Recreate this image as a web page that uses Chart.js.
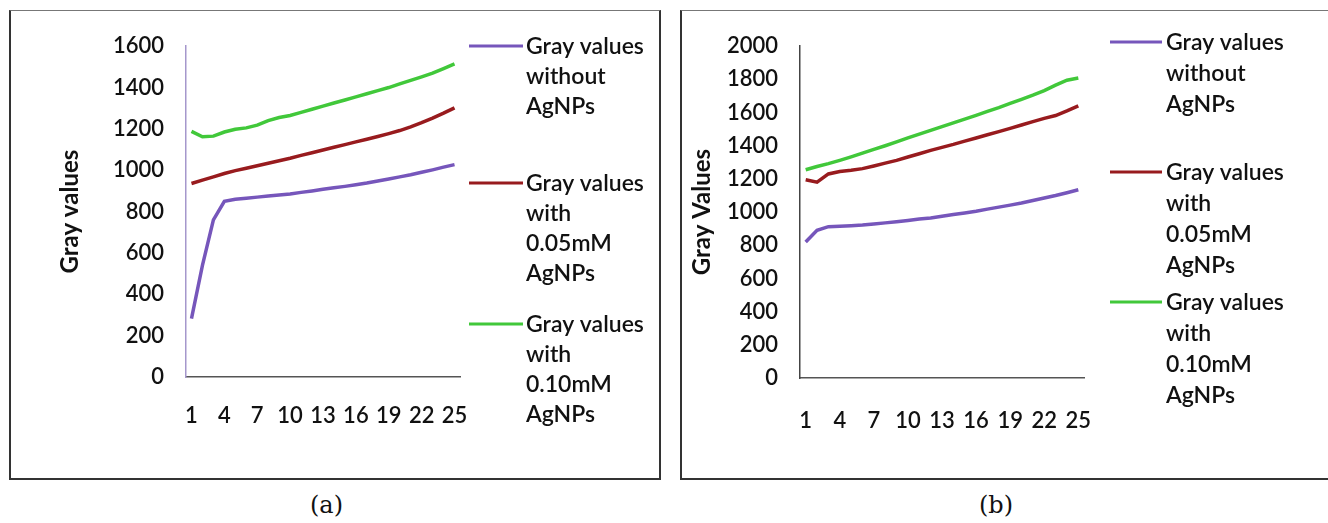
<!DOCTYPE html>
<html><head><meta charset="utf-8">
<script src="https://cdn.jsdelivr.net/npm/chart.js@4.4.1/dist/chart.umd.min.js"></script>
<style>
body{margin:0;background:#fff;width:1328px;height:523px;overflow:hidden;position:relative;font-family:Lato}
.box{position:absolute;border:2px solid #333;border-top:1px solid #777;box-sizing:border-box;background:#fff}
canvas{position:absolute}
.cap{position:absolute;font-family:"DejaVu Serif";font-size:24px;color:#111}
</style></head><body>
<div class="box" style="left:9px;top:10px;width:652px;height:470px"></div>
<div class="box" style="left:680px;top:10px;width:660px;height:470px"></div>
<canvas id="ca" width="640" height="466" style="left:11px;top:11px"></canvas>
<canvas id="cb" width="640" height="466" style="left:682px;top:11px"></canvas>
<div class="cap" style="left:310px;top:491px">(a)</div>
<div class="cap" style="left:979px;top:491px">(b)</div>
<script>
// ---------- data ----------
const categories = ['1','2','3','4','5','6','7','8','9','10','11','12','13','14','15','16','17','18','19','20','21','22','23','24','25'];
const shownTicks = ['1','4','7','10','13','16','19','22','25'];
const seriesNames = ['Gray values without AgNPs','Gray values with 0.05mM AgNPs','Gray values with 0.10mM AgNPs'];
const legendLines = [['Gray values','without','AgNPs'],['Gray values','with','0.05mM','AgNPs'],['Gray values','with','0.10mM','AgNPs']];

// panel (a)
const aWithout = [282,540,760,850,860,865,870,875,880,885,893,900,908,915,922,930,938,948,958,968,978,990,1002,1015,1027];
const a005 = [936,952,968,984,998,1010,1022,1034,1046,1058,1072,1085,1098,1111,1124,1137,1150,1163,1177,1192,1210,1230,1252,1276,1302];
const a010 = [1188,1162,1165,1185,1198,1205,1218,1240,1255,1265,1280,1295,1310,1325,1340,1355,1370,1385,1400,1418,1435,1452,1470,1492,1514];
const aYMax = 1600;
const aTitle = 'Gray values';

// panel (b)
const bWithout = [820,890,912,915,918,922,928,935,942,950,958,965,975,985,995,1005,1018,1030,1042,1055,1070,1085,1100,1117,1135];
const b005 = [1195,1180,1230,1245,1252,1262,1278,1295,1312,1332,1352,1372,1390,1408,1428,1447,1466,1485,1505,1525,1545,1565,1582,1610,1640];
const b010 = [1255,1275,1292,1312,1333,1355,1378,1400,1423,1447,1470,1493,1515,1538,1560,1583,1607,1630,1655,1680,1705,1732,1765,1795,1808];
const bYMax = 2000;
const bTitle = 'Gray Values';

const colors = ['#7656bb','#981b1e','#41c83a'];

const sideLegend = {
  id:'sideLegend',
  afterDraw(chart, args, o){
    const ctx = chart.ctx; ctx.save();
    ctx.font = o.font; ctx.textBaseline = 'middle'; ctx.fillStyle = o.color;
    chart.data.datasets.forEach((ds,i)=>{
      const y0 = o.rows[i];
      ctx.strokeStyle = ds.borderColor; ctx.lineWidth = 3;
      ctx.beginPath(); ctx.moveTo(o.x0, y0-1); ctx.lineTo(o.x1, y0-1); ctx.stroke();
      o.lines[i].forEach((t,k)=>ctx.fillText(t, o.tx, y0 + k*o.lh));
    });
    ctx.restore();
  }
};

function makeChart(id, values, yMax, title, g){
  return new Chart(document.getElementById(id), {
    type:'line',
    data:{labels:categories, datasets: values.map((v,i)=>({label:seriesNames[i], data:v, borderColor:colors[i], backgroundColor:colors[i], borderWidth:3.5, pointRadius:0, tension:0, fill:false}))},
    plugins:[sideLegend],
    options:{
      responsive:false, animation:false, devicePixelRatio:1,
      layout:{padding:{left:g.padL, top:g.top, right:g.padR, bottom:0}},
      plugins:{legend:{display:false}, tooltip:{enabled:false},
        sideLegend:{font:'600 23px Lato', color:'#111', x0:g.lx0, x1:g.lx1, tx:g.tx, rows:g.rows, lh:g.lh, lines:legendLines}},
      scales:{
        x:{type:'category', offset:true,
          grid:{display:false, drawTicks:false},
          border:{display:true, color:'#555', width:1.5},
          ticks:{autoSkip:false, maxRotation:0, padding:g.xPad, color:'#111', font:{family:'Lato', size:22, weight:'600'},
            callback(val, idx){ const l = categories[idx]; return shownTicks.includes(l) ? l : ''; }},
          afterFit(s){ s.height = g.xH; }
        },
        y:{min:0, max:yMax,
          grid:{display:false, drawTicks:false},
          border:{display:true, color:g.yColor, width:1.5},
          ticks:{stepSize:200, autoSkip:false, padding:22, color:'#111', font:{family:'Lato', size:22, weight:'600'},
            callback(v){ return String(v); }},
          title:{display:true, text:title, color:'#111', font:{family:'Lato', size:24, weight:'bold'}, padding:{top:g.tPad, bottom:0}},
          afterFit(s){ s.width = g.yW; }
        }
      }
    }
  });
}

makeChart('ca', [aWithout,a005,a010], aYMax, aTitle, {padL:40, yW:135, top:31, padR:191, xH:100, xPad:26, yColor:'#a597cc', tPad:5, lx0:458, lx1:512, tx:515, rows:[36,173,314], lh:30});
makeChart('cb', [bWithout,b005,b010], bYMax, bTitle, {padL:0, yW:118, top:14, padR:238, xH:99, xPad:30, yColor:'#444', tPad:6, lx0:428, lx1:480, tx:484, rows:[32,162,292], lh:31});
</script>
</body></html>
